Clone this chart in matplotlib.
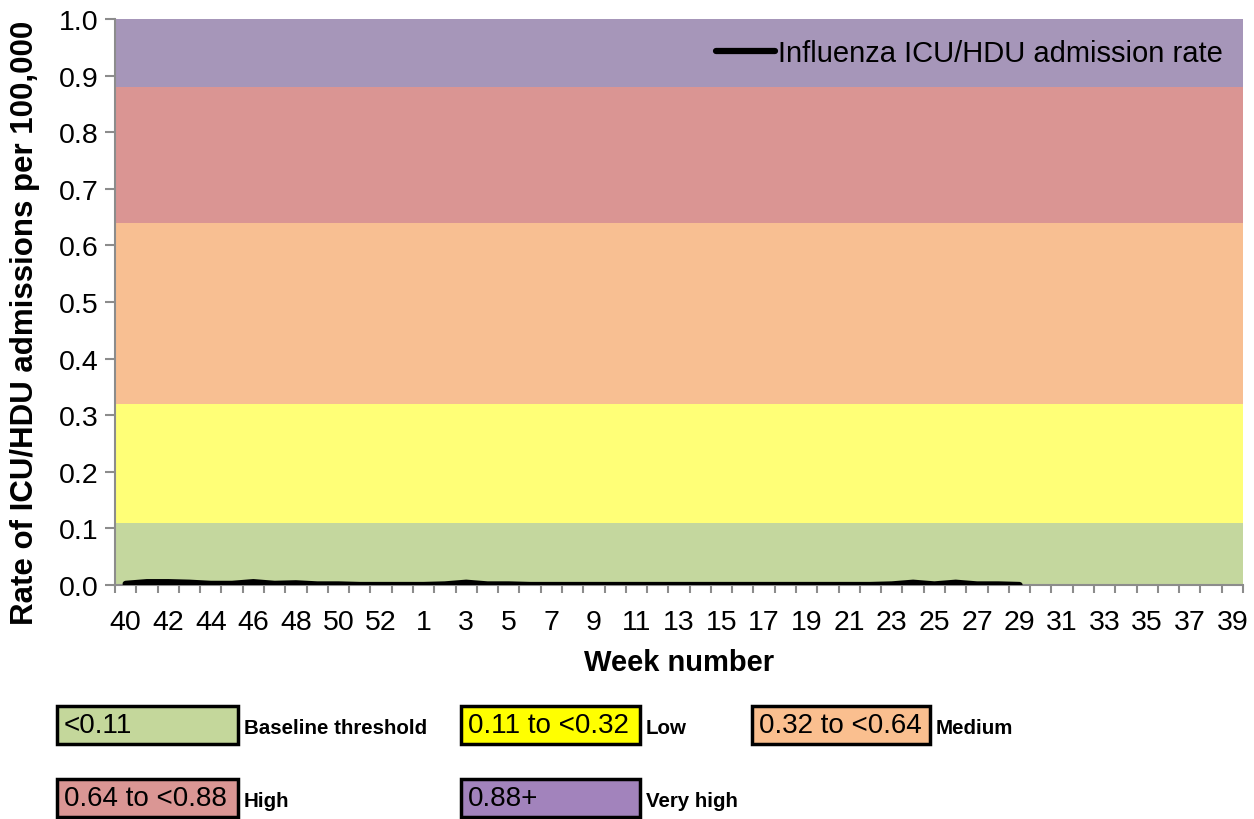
import numpy as np
import matplotlib
matplotlib.use("Agg")
import matplotlib.pyplot as plt
from matplotlib.patches import Rectangle

plt.rcParams['font.family'] = ['Liberation Sans', 'DejaVu Sans']

# semanas de la temporada (incluye la semana 53)
weeks = list(range(40, 54)) + list(range(1, 40))
# tasa de ingresos UCI/UAD por 100.000 (semana 40 a semana 29)
rate = [0.002, 0.005, 0.005, 0.004, 0.002, 0.002, 0.005, 0.002, 0.003, 0.001,
        0.001, 0.0, 0.0, 0.0, 0.0, 0.001, 0.004, 0.001, 0.001, 0.0,
        0.0, 0.0, 0.0, 0.0, 0.0, 0.0, 0.0, 0.0, 0.0, 0.0,
        0.0, 0.0, 0.0, 0.0, 0.0, 0.0, 0.001, 0.004, 0.001, 0.004,
        0.001, 0.001, 0.0]

# umbrales de intensidad
band_edges = [0.0, 0.11, 0.32, 0.64, 0.88, 1.0]
band_colors = ['#C4D79E', '#FFFF77', '#F8BF92', '#DA9593', '#A696B9']
box_colors = ['#C4D79B', '#FFFF00', '#FABF8F', '#DA9694', '#A283BC']
box_texts = ['<0.11', '0.11 to <0.32', '0.32 to <0.64', '0.64 to <0.88', '0.88+']
box_labels = ['Baseline threshold', 'Low', 'Medium', 'High', 'Very high']

W, H = 1254, 820
fig = plt.figure(figsize=(W / 100, H / 100), dpi=100)
ax = fig.add_axes([115 / W, 1 - 586 / H, (1243 - 115) / W, (586 - 20) / H])

x = np.arange(len(weeks))
for lo, hi, c in zip(band_edges[:-1], band_edges[1:], band_colors):
    ax.axhspan(lo, hi, color=c, lw=0, zorder=0)

ax.plot(x[:len(rate)], rate, color='black', lw=4.5, solid_capstyle='round',
        label='Influenza ICU/HDU admission rate', zorder=3)

ax.set_xlim(-0.5, len(weeks) - 0.5)
ax.set_ylim(0, 1.0)
ax.set_yticks(np.arange(0, 1.01, 0.1))
ax.set_yticklabels([f'{v:.1f}' for v in np.arange(0, 1.01, 0.1)])
ax.set_xticks(x[::2])
ax.set_xticklabels([str(w) for w in weeks[::2]])
ax.set_xticks(np.arange(-0.5, len(weeks), 1), minor=True)
ax.tick_params(axis='x', which='major', length=0, labelsize=20.5, pad=17)
ax.tick_params(axis='x', which='minor', length=6, width=1.5, color='#8c8c8c')
ax.tick_params(axis='y', length=7, width=1.5, color='#8c8c8c', labelsize=20.5, pad=5)

for s in ['top', 'right']:
    ax.spines[s].set_visible(False)
for s in ['left', 'bottom']:
    ax.spines[s].set_color('#8c8c8c')
    ax.spines[s].set_linewidth(1.5)

ax.set_xlabel('Week number', fontsize=21, fontweight='bold', labelpad=10)
fig.text(25 / W, 1 - 323 / H, 'Rate of ICU/HDU admissions per 100,000',
         fontsize=22.5, fontweight='bold', rotation=90, ha='center', va='center')

ax.legend(loc='upper right', frameon=False, fontsize=21, handlelength=2.0,
          handletextpad=0.1, borderaxespad=0.3)

# leyenda inferior con los niveles
box_pos = [(57, 707), (461, 707), (752, 707), (57, 780), (461, 780)]
box_w = [181, 179, 178, 181, 179]
for (bx, by), bw, fc, t, lab in zip(box_pos, box_w, box_colors, box_texts, box_labels):
    fig.patches.append(Rectangle((bx / W, 1 - (by + 38) / H), bw / W, 38 / H,
                                 transform=fig.transFigure, facecolor=fc,
                                 edgecolor='black', lw=2.5))
    fig.text((bx + 7) / W, 1 - (by + 19) / H, t, fontsize=20, va='center', ha='left')
    fig.text((bx + bw + 6) / W, 1 - (by + 22) / H, lab, fontsize=14.8,
             fontweight='bold', va='center', ha='left')

fig.savefig('out.png', dpi=100)
